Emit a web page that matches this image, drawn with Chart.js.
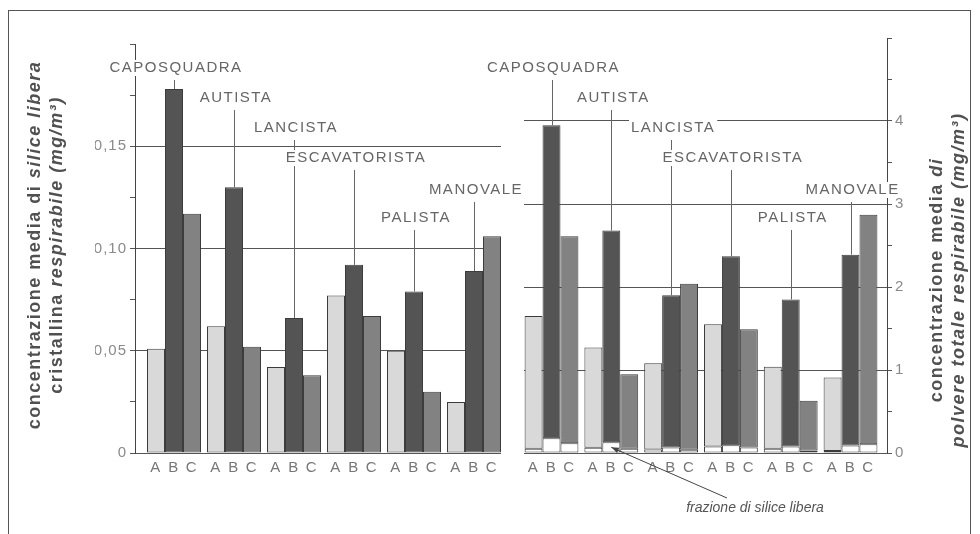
<!DOCTYPE html>
<html>
<head>
<meta charset="utf-8">
<script src="https://cdn.jsdelivr.net/npm/chart.js@4.4.1/dist/chart.umd.min.js"></script>
<style>
  html, body { margin: 0; padding: 0; background: #fff; }
  #wrap { position: relative; width: 980px; height: 534px; overflow: hidden; }
  #wrap canvas { position: absolute; left: 0; top: 0; }
  #frame { position: absolute; left: 8px; top: 10px; width: 961px; height: 540px; border: 1px solid #555; }
</style>
</head>
<body>
<div id="wrap">
  <div id="frame"></div>
  <canvas id="silica" width="980" height="534"></canvas>
  <canvas id="dust" width="980" height="534"></canvas>
</div>
<script>
const jobs = ['CAPOSQUADRA', 'AUTISTA', 'LANCISTA', 'ESCAVATORISTA', 'PALISTA', 'MANOVALE'];
const groupLetters = ['A', 'B', 'C'];

// free crystalline silica, mg/m3 (left panel)
const silicaA = [0.051, 0.062, 0.042, 0.077, 0.050, 0.025];
const silicaB = [0.178, 0.130, 0.066, 0.092, 0.079, 0.089];
const silicaC = [0.117, 0.052, 0.038, 0.067, 0.030, 0.106];

// total respirable dust, mg/m3 (right panel)
const dustA = [1.65, 1.27, 1.08, 1.55, 1.04, 0.91];
const dustB = [3.95, 2.68, 1.90, 2.37, 1.85, 2.39];
const dustC = [2.61, 0.95, 2.04, 1.49, 0.63, 2.87];

const silicaTicks = [0, 0.05, 0.10, 0.15];
const silicaTickLabels = ['0', '0,05', '0,10', '0,15'];
const dustTicks = [0, 1, 2, 3, 4];
const dustTickLabels = ['0', '1', '2', '3', '4'];

const FONT = '"Liberation Sans", Arial, sans-serif';
const fills = ['#d9d9d9', '#545454', '#828282'];
const edge = '#3c3c3c';

// where the job names sit (px from top)
const labelY = [68, 98, 128, 158, 218, 190];

Chart.defaults.font.family = FONT;
Chart.defaults.animation = false;

function tickIndex(v, list) {
  return list.findIndex(t => Math.abs(t - v) < 1e-9);
}

function xScale(min, max) {
  return {
    type: 'linear', display: false, min: min, max: max, offset: false,
    ticks: { stepSize: 1, includeBounds: false },
  };
}

function yScale(position, max, step, list, labels) {
  return {
    position: position,
    min: 0,
    max: max,
    afterFit(scale) { scale.width = 40; },
    border: { color: '#444', width: 1 },
    grid: {
      color: c => (c.tick && tickIndex(c.tick.value, list) >= 0) ? '#555' : 'rgba(0,0,0,0)',
      tickColor: '#555',
      tickLength: 5,
    },
    ticks: {
      stepSize: step,
      autoSkip: false,
      padding: 3,
      color: '#8a8a8a',
      font: { size: 15 },
      callback: v => {
        const i = tickIndex(v, list);
        return i < 0 ? '' : labels[i];
      },
    },
  };
}

function drawVertical(ctx, parts, cx, cy) {
  ctx.save();
  ctx.translate(cx, cy);
  ctx.rotate(-Math.PI / 2);
  ctx.letterSpacing = '1.5px';
  ctx.textBaseline = 'middle';
  ctx.textAlign = 'left';
  ctx.fillStyle = '#505050';
  const fonts = parts.map(p => (p[1] ? 'italic ' : '') + 'bold 18px ' + FONT);
  let total = 0;
  parts.forEach((p, i) => { ctx.font = fonts[i]; total += ctx.measureText(p[0]).width; });
  let x = -total / 2;
  parts.forEach((p, i) => {
    ctx.font = fonts[i];
    ctx.fillText(p[0], x, 0);
    x += ctx.measureText(p[0]).width;
  });
  ctx.restore();
}

function annotations(bIndex, letterSets) {
  return {
    id: 'annotations',
    beforeDraw(chart) { chart.ctx.letterSpacing = '1px'; },
    afterDatasetsDraw(chart) {
      const ctx = chart.ctx;
      ctx.save();
      ctx.letterSpacing = '1.5px';
      ctx.textAlign = 'center';
      ctx.textBaseline = 'middle';
      ctx.font = '15px ' + FONT;

      // A B C under every bar
      ctx.fillStyle = '#777';
      letterSets.forEach((di, k) => {
        chart.getDatasetMeta(di).data.forEach(bar => ctx.fillText(groupLetters[k], bar.x, 468));
      });

      // job names with a leader line down to the B bar
      const bars = chart.getDatasetMeta(bIndex).data;
      jobs.forEach((name, i) => {
        const bar = bars[i];
        const y = labelY[i];
        const lx = Math.round(bar.x) + 0.5;
        ctx.strokeStyle = '#666';
        ctx.lineWidth = 1;
        ctx.beginPath();
        ctx.moveTo(lx, y + 12);
        ctx.lineTo(lx, bar.y);
        ctx.stroke();
        const w = ctx.measureText(name).width;
        const tx = bar.x + 2;
        ctx.fillStyle = '#fff';
        ctx.fillRect(tx - w / 2 - 2, y - 8, w + 4, 16);
        ctx.fillStyle = '#666';
        ctx.fillText(name, tx, y);
      });
      ctx.restore();
    },
  };
}

// ---------- left panel: silica ----------
const silicaSets = [silicaA, silicaB, silicaC].map((vals, k) => ({
  label: groupLetters[k],
  data: vals.map((v, i) => ({ x: i, y: v })),
  backgroundColor: fills[k],
  borderColor: edge,
  borderWidth: 1,
  borderSkipped: false,
  categoryPercentage: 0.9,
  barPercentage: 1.0,
}));

new Chart(document.getElementById('silica'), {
  type: 'bar',
  data: { datasets: silicaSets },
  options: {
    responsive: false,
    layout: { padding: { left: 95, right: 479, top: 44, bottom: 81 } },
    scales: {
      x: xScale(-0.65, 5.45),
      y: yScale('left', 0.2, 0.025, silicaTicks, silicaTickLabels),
    },
    plugins: { legend: { display: false }, tooltip: { enabled: false } },
  },
  plugins: [annotations(1, [0, 1, 2]), {
    id: 'leftTitle',
    afterDraw(chart) {
      drawVertical(chart.ctx, [['concentrazione media di ', false], ['silice libera', true]], 35, 245);
      drawVertical(chart.ctx, [['cristallina ', false], ['respirabile (mg/m³)', true]], 57, 245);
    },
  }],
});

// ---------- right panel: total dust, silica fraction at the bottom ----------
const silicaAll = [silicaA, silicaB, silicaC];
const dustAll = [dustA, dustB, dustC];
const dustSets = [];
groupLetters.forEach((g, k) => {
  dustSets.push({
    label: g + ' silice',
    stack: g,
    data: silicaAll[k].map((v, i) => ({ x: i, y: v })),
    backgroundColor: '#ffffff',
    borderColor: edge,
    borderWidth: 1,
    borderSkipped: false,
    categoryPercentage: 0.9,
    barPercentage: 1.0,
  });
  dustSets.push({
    label: g,
    stack: g,
    data: dustAll[k].map((v, i) => ({ x: i, y: v - silicaAll[k][i] })),
    backgroundColor: fills[k],
    borderColor: edge,
    borderWidth: 1,
    borderSkipped: false,
    categoryPercentage: 0.9,
    barPercentage: 1.0,
  });
});

new Chart(document.getElementById('dust'), {
  type: 'bar',
  data: { datasets: dustSets },
  options: {
    responsive: false,
    layout: { padding: { left: 524, right: 53, top: 38, bottom: 81 } },
    scales: {
      x: xScale(-0.46, 5.61),
      y: Object.assign(yScale('right', 5, 0.5, dustTicks, dustTickLabels), { stacked: true }),
    },
    plugins: { legend: { display: false }, tooltip: { enabled: false } },
  },
  plugins: [annotations(3, [1, 3, 5]), {
    id: 'rightTitle',
    afterDraw(chart) {
      const ctx = chart.ctx;
      drawVertical(ctx, [['concentrazione media ', false], ['di', true]], 937, 280);
      drawVertical(ctx, [['polvere totale respirabile (mg/m³)', true]], 959, 280);

      // pointer to the silica fraction of AUTISTA B
      const seg = chart.getDatasetMeta(2).data[1];
      const sx = seg.x, sy = (seg.y + seg.base) / 2;
      const ex = 727, ey = 498;
      ctx.save();
      ctx.strokeStyle = '#444';
      ctx.fillStyle = '#444';
      ctx.lineWidth = 1;
      ctx.beginPath();
      ctx.moveTo(ex, ey);
      ctx.lineTo(sx, sy);
      ctx.stroke();
      const a = Math.atan2(ey - sy, ex - sx);
      ctx.beginPath();
      ctx.moveTo(sx, sy);
      ctx.lineTo(sx + 8 * Math.cos(a - 0.35), sy + 8 * Math.sin(a - 0.35));
      ctx.lineTo(sx + 8 * Math.cos(a + 0.35), sy + 8 * Math.sin(a + 0.35));
      ctx.closePath();
      ctx.fill();
      ctx.letterSpacing = '0px';
      ctx.font = 'italic 14px ' + FONT;
      ctx.fillStyle = '#555';
      ctx.textAlign = 'center';
      ctx.textBaseline = 'middle';
      ctx.fillText('frazione di silice libera', 755, 508);
      ctx.restore();
    },
  }],
});
</script>
</body>
</html>
